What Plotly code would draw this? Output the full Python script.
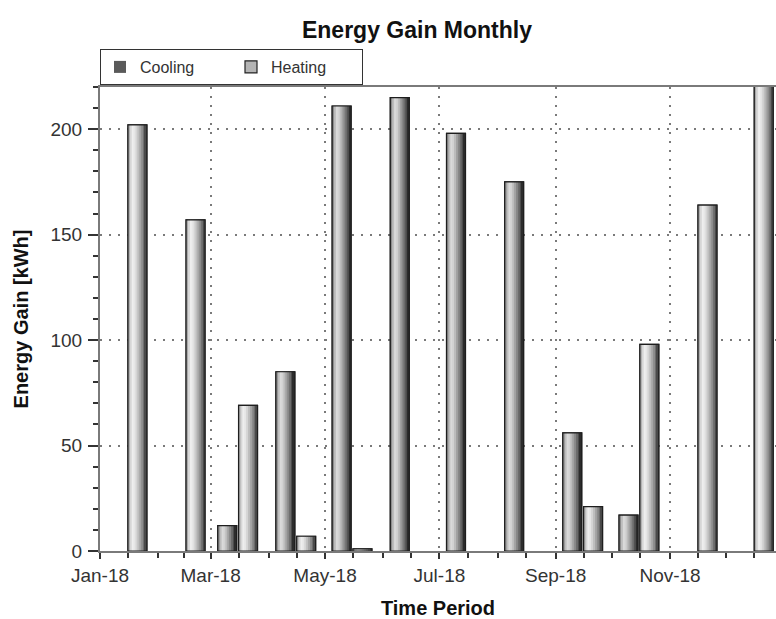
import plotly.graph_objects as go

# ---- data ----
months = ["2018-01-15", "2018-02-15", "2018-03-15", "2018-04-15", "2018-05-15", "2018-06-15",
          "2018-07-15", "2018-08-15", "2018-09-15", "2018-10-15", "2018-11-15", "2018-12-15"]
cooling = [0, 0, 12, 85, 211, 215, 198, 175, 56, 17, 0, 0]
heating = [202, 157, 69, 7, 1, 0, 0, 0, 21, 98, 164, 235]
series_names = ["Cooling", "Heating"]
minor_ticks = ["2018-01-16", "2018-02-01", "2018-02-15", "2018-03-16", "2018-04-01", "2018-04-16",
               "2018-05-16", "2018-06-01", "2018-06-16", "2018-07-16", "2018-08-01", "2018-08-16",
               "2018-09-16", "2018-10-01", "2018-10-16", "2018-11-16", "2018-12-01", "2018-12-16"]

DAY = 86400000
BAR_W = 10.1 * DAY
OFFSETS = {"Cooling": -10.2 * DAY, "Heating": 0.9 * DAY}

grad = {
    "Cooling": ["#8c8c8c", "#bdbdbd", "#dadada", "#d2d2d2", "#bcbcbc", "#a2a2a2",
                "#888888", "#6c6c6c", "#4c4c4c", "#2c2c2c"],
    "Heating": ["#a8a8a8", "#d6d6d6", "#eeeeee", "#e6e6e6", "#d4d4d4", "#bebebe",
                "#a6a6a6", "#8c8c8c", "#6c6c6c", "#4a4a4a"],
}
legend_col = {"Cooling": "#5a5a5a", "Heating": "#b4b4b4"}

fig = go.Figure()
values = {"Cooling": cooling, "Heating": heating}

for name in series_names:
    vals = values[name]
    lw = [1.2 if v > 0 else 0 for v in vals]
    # legend / base bar
    fig.add_trace(go.Bar(x=months, y=vals, name=name, width=BAR_W, offset=OFFSETS[name],
                         marker=dict(color=legend_col[name], line=dict(color="#222222", width=lw)),
                         showlegend=True, legendgroup=name, hoverinfo="skip"))
    n = len(grad[name])
    sw = BAR_W / n
    for i, col in enumerate(grad[name]):
        w = sw * 1.4 if i < n - 1 else sw
        fig.add_trace(go.Bar(x=months, y=vals, width=w, offset=OFFSETS[name] + i * sw,
                             marker=dict(color=col, line=dict(width=0)),
                             showlegend=False, legendgroup=name, hoverinfo="skip"))
    # outline
    fig.add_trace(go.Bar(x=months, y=vals, width=BAR_W, offset=OFFSETS[name],
                         marker=dict(color="rgba(0,0,0,0)", line=dict(color="#1e1e1e", width=lw)),
                         showlegend=False, legendgroup=name, hoverinfo="skip"))

FONT = "Liberation Sans, Arial, sans-serif"
PLOT_TOP, PLOT_H = 87, 464

fig.update_layout(
    width=776, height=619,
    margin=dict(l=100, r=0, t=PLOT_TOP, b=68),
    paper_bgcolor="white", plot_bgcolor="white",
    barmode="overlay",
    font=dict(family=FONT, color="#222222"),
    title=dict(text="<b>Energy Gain Monthly</b>", x=417 / 776, xanchor="center", xref="container",
               y=1 - 30 / 619, yanchor="middle", yref="container",
               font=dict(size=23, color="#111111", family=FONT)),
    legend=dict(orientation="h", x=0, xanchor="left", y=1 + (PLOT_TOP - 67) / PLOT_H, yanchor="middle",
                bordercolor="#333333", borderwidth=1, bgcolor="white",
                font=dict(size=16, color="#333333", family=FONT),
                itemclick=False, itemdoubleclick=False, tracegroupgap=0, entrywidth=86),
    showlegend=True,
)

fig.update_xaxes(
    type="date", range=["2018-01-01", "2018-12-27 12:00"], automargin=False,
    tickformat="%b-%y", dtick="M2", tick0="2018-01-01",
    ticks="outside", ticklen=6, tickwidth=1.5, tickcolor="#333333",
    tickfont=dict(size=19, color="#333333", family=FONT),
    showline=True, linecolor="#7a7a7a", linewidth=2, mirror=True,
    showgrid=True, gridcolor="#7a7a7a", griddash="2px,7px", gridwidth=1.5,
    zeroline=False,
    minor=dict(tickvals=minor_ticks, ticks="outside", ticklen=5, tickcolor="#333333", tickwidth=1.5,
               showgrid=False),
    title=dict(text="<b>Time Period</b>", font=dict(size=20, color="#111111", family=FONT), standoff=18),
)

fig.update_yaxes(
    range=[0, 220], tickvals=[0, 50, 100, 150, 200], automargin=False,
    ticks="outside", ticklen=10, tickwidth=1.5, tickcolor="#333333",
    tickfont=dict(size=19, color="#333333", family=FONT), ticklabelstandoff=2,
    showline=True, linecolor="#7a7a7a", linewidth=2, mirror=False,
    showgrid=True, gridcolor="#7a7a7a", griddash="2px,7px", gridwidth=1.5,
    zeroline=False,
    minor=dict(dtick=10, ticks="outside", ticklen=5, tickcolor="#333333", tickwidth=1.5, showgrid=False),
    title=dict(text="<b>Energy Gain [kWh]</b>", font=dict(size=20, color="#111111", family=FONT), standoff=16),
)

fig.write_html("out.html", config={"displayModeBar": False},
               post_script="document.body.style.margin='0';document.body.style.overflow='hidden';")
